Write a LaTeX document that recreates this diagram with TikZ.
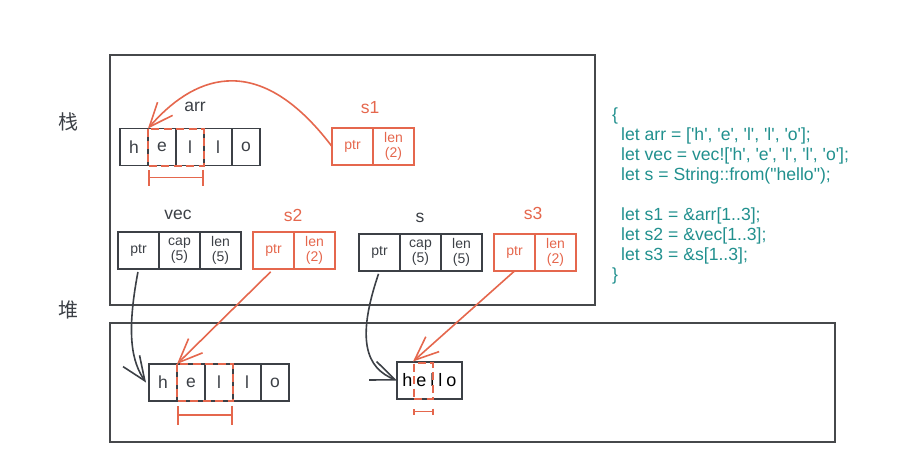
\documentclass[tikz,border=0pt]{standalone}
\usepackage{fontspec}
\setmainfont{Liberation Sans}
\newfontfamily\cjk{Noto Sans CJK SC}
\usetikzlibrary{arrows.meta,positioning}
\definecolor{ink}{HTML}{3C4046}
\definecolor{rust}{HTML}{E5674D}
\definecolor{codeteal}{HTML}{21908E}
\definecolor{framegray}{HTML}{46484B}
\newcommand{\q}{\textquotesingle}
\tikzset{>={Straight Barb[length=24pt,width=20pt]},
  box/.style={draw=framegray,line width=1.6pt,inner sep=0pt,outer sep=0pt},
  cell/.style={draw=ink,line width=1.9pt,minimum width=28pt,minimum height=37pt,inner sep=0pt,outer sep=0pt,text=ink,font=\fontsize{17.5}{17.5}\selectfont},
  field/.style={draw=ink,line width=1.9pt,minimum width=41pt,minimum height=37pt,inner sep=0pt,outer sep=0pt,align=center,text=ink,font=\fontsize{14}{15.5}\selectfont},
  slice/.style={field,draw=rust,text=rust},
  varname/.style={text=ink,font=\fontsize{17.5}{17.5}\selectfont},
  rvarname/.style={varname,text=rust},
  hl/.style={draw=rust,line width=2pt,dash pattern=on 8pt off 4.5pt},
  gauge/.style={draw=rust,line width=1.7pt,{Bar[width=#1]}-{Bar[width=#1]}},
  ptr/.style={draw=ink,line width=1.6pt,->,shorten <=3pt},
  rptr/.style={draw=rust,line width=1.6pt,->}
}
\begin{document}
\begin{tikzpicture}[x=1pt,y=-1pt]
\useasboundingbox (0,0) rectangle (902,467);
% stack and heap
\node[box,minimum width=485pt,minimum height=250pt] (stack) at (352.5,180) {};
\node[box,minimum width=725pt,minimum height=119pt] (heap) at (472.5,382.5) {};
\node[text=ink,font=\cjk\fontsize{20}{20}\selectfont] (stacklbl) at (68,122) {栈};
\node[text=ink,font=\cjk\fontsize{20}{20}\selectfont] (heaplbl) at (68,310) {堆};

% arr on the stack
\foreach \c [count=\i from 0] in {h,e,l,l,o}
  \node[cell] (a\i) at ({134+28*\i},147) {\c};
\draw[hl] (a1.north west) rectangle (a2.south east);
\draw[gauge=16pt] ([yshift=-12pt]a1.south west) -- ([yshift=-12pt]a2.south east);
\node[varname] (arrlbl) at (195,107) {arr};

% s1
\node[slice] (s1p) at (352.5,146.5) {ptr};
\node[slice,right=0pt of s1p] (s1l) {len\\(2)};
\node[rvarname] (s1lbl) at (370,108) {s1};

% vec and s2
\node[field] (vp) at (138.5,250.5) {ptr};
\node[field,right=0pt of vp] (vc) {cap\\(5)};
\node[field,right=0pt of vc] (vl) {len\\(5)};
\node[varname] (veclbl) at (178,215) {vec};
\node[slice] (s2p) at (273.5,250.5) {ptr};
\node[slice,right=0pt of s2p] (s2l) {len\\(2)};
\node[rvarname] (s2lbl) at (293,215) {s2};

% s and s3
\node[field] (sp) at (379.5,252.5) {ptr};
\node[field,right=0pt of sp] (sc) {cap\\(5)};
\node[field,right=0pt of sc] (sl) {len\\(5)};
\node[varname] (slbl) at (420,218) {s};
\node[slice] (s3p) at (514.5,252.5) {ptr};
\node[slice,right=0pt of s3p] (s3l) {len\\(2)};
\node[rvarname] (s3lbl) at (533,213) {s3};

% heap data
\foreach \c [count=\i from 0] in {h,e,l,l,o}
  \node[cell] (h\i) at ({163+28*\i},382.5) {\c};
\draw[hl] (h1.north west) rectangle (h2.south east);
\draw[gauge=19pt] ([yshift=-14pt]h1.south west) -- ([yshift=-14pt]h2.south east);
\node[cell,minimum width=65pt,text=black,font=\fontsize{18}{18}\selectfont] (str) at (429.5,380.5) {h\kern4pt e\kern4pt l\kern4pt l\kern4pt o};
\node[hl,minimum width=19pt,minimum height=36pt,inner sep=0pt] (strsl) at (423.5,380.5) {};
\draw[gauge=6pt] ([yshift=-12pt]strsl.south west) -- ([yshift=-12pt]strsl.south east);

% pointers
\draw[rptr] (s1p.west) .. controls (255,45) and (190,80) .. (a1.north west);
\draw[ptr] (vp.south) .. controls (126,335) and (132,362) .. ([xshift=-3pt]h0.west);
\draw[rptr,shorten <=4pt] (s2p.south) -- (h1.north west);
\draw[ptr] (sp.south) .. controls (356,340) and (366,368) .. (str.west);
\draw[rptr] (s3p.south) -- (strsl.north west);

% code
\node[anchor=north west,align=left,inner sep=0pt,text=codeteal,font=\fontsize{17.6}{20}\selectfont] (code) at (612,108) {\{\\
\hspace*{9pt}let arr = [\q h\q, \q e\q, \q l\q, \q l\q, \q o\q];\\
\hspace*{9pt}let vec = vec![\q h\q, \q e\q, \q l\q, \q l\q, \q o\q];\\
\hspace*{9pt}let s = String::from(\textquotedbl hello\textquotedbl);\\[20pt]
\hspace*{9pt}let s1 = \&arr[1..3];\\
\hspace*{9pt}let s2 = \&vec[1..3];\\
\hspace*{9pt}let s3 = \&s[1..3];\\
\}};
\end{tikzpicture}
\end{document}
